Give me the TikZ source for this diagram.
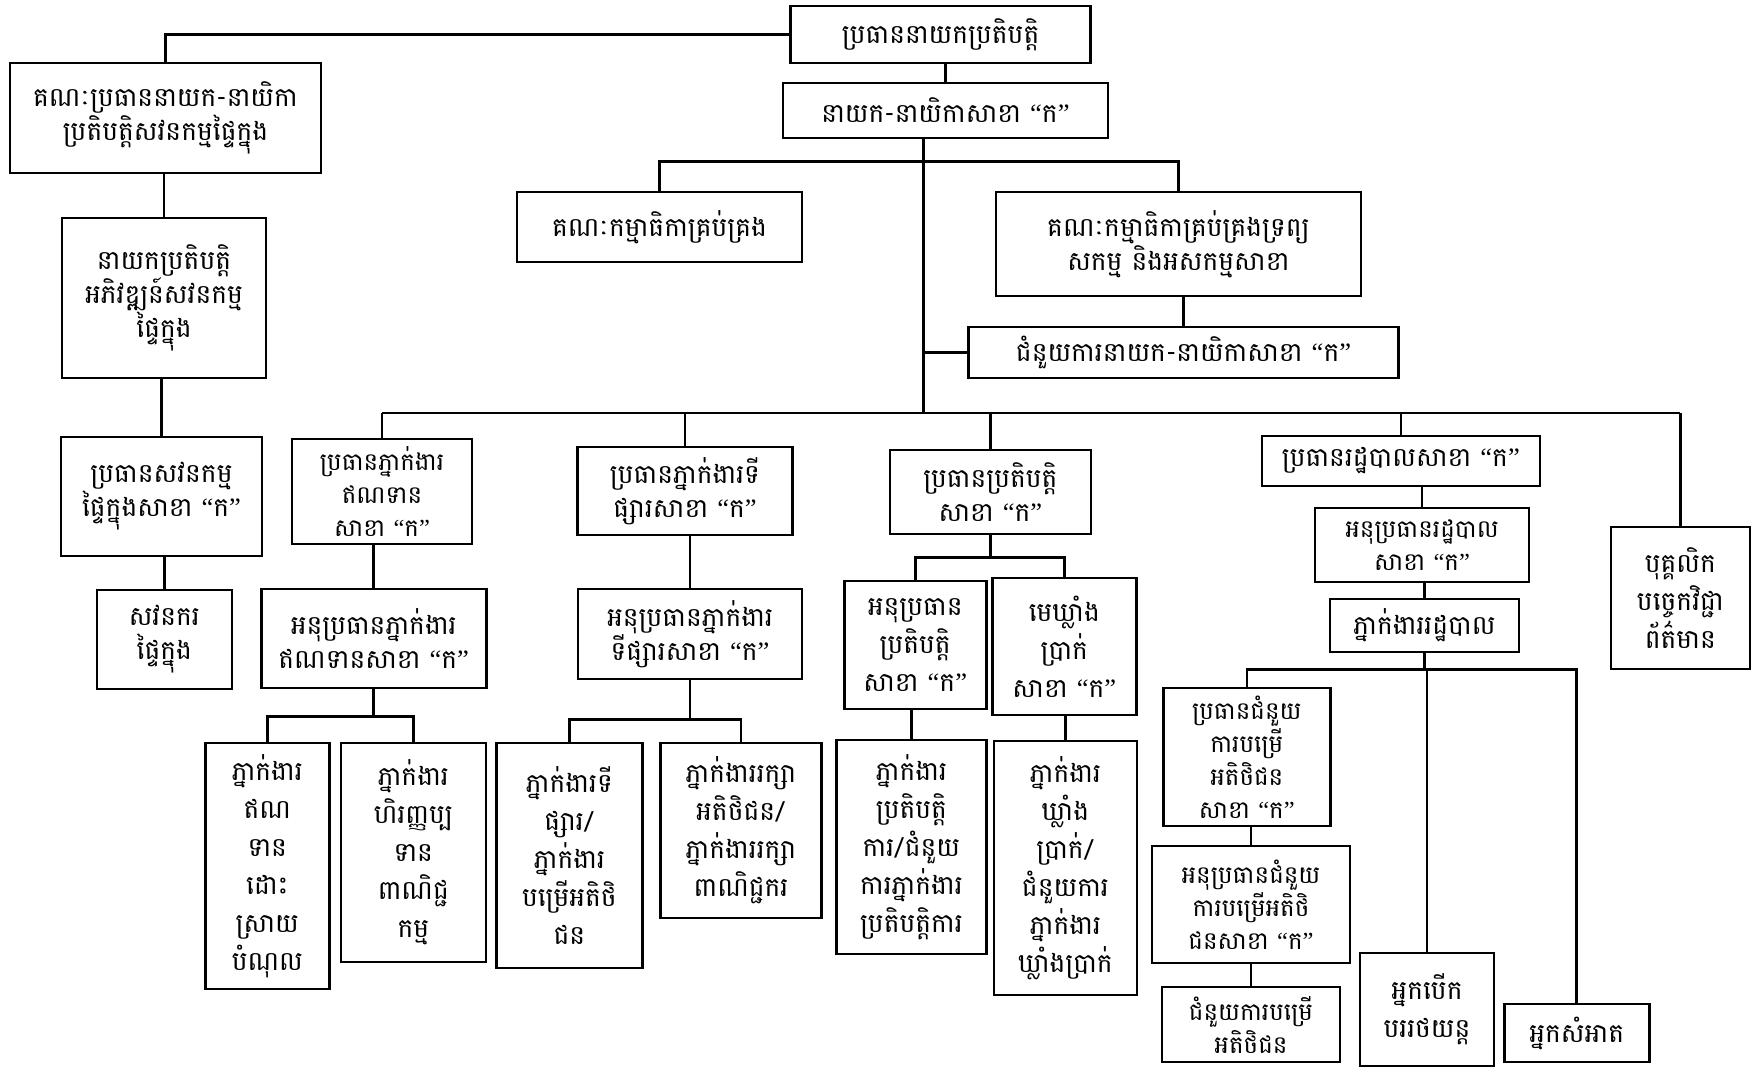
\documentclass[tikz,border=0pt]{standalone}
\usepackage{fontspec}
\newfontfamily\khmer[Script=Khmer]{Battambang}
\newfontfamily\quotefont{Liberation Serif}
\newcommand\kaq{{\quotefont “}ក{\quotefont ”}}
\usetikzlibrary{positioning}

\tikzset{
  box/.style 2 args={draw, line width=2.6pt, align=center, inner sep=2pt,
    minimum width=#1pt, minimum height=#2pt,
    font=\khmer\fontsize{26.5}{34}\selectfont},
  tight/.style={font=\khmer\fontsize{24.5}{33}\selectfont},
  loose/.style={font=\khmer\fontsize{26.5}{38}\selectfont},
  link/.style={line width=2.6pt}
}

\begin{document}
\begin{tikzpicture}[x=1pt, y=-1pt]
\useasboundingbox (0,0) rectangle (1754,1071);

% top level
\node [box={300}{57}] (ceo) at (940.6,34.5) {ប្រធាននាយកប្រតិបត្តិ};
\node [box={325}{55}] (branch) at (945.4,110.5) {នាយក-នាយិកាសាខា \kaq};
\node [box={311}{110}] (board) at (165.5,118) {គណៈប្រធាននាយក-នាយិកា\\ប្រតិបត្តិសវនកម្មផ្ទៃក្នុង};
\node [box={204}{160}] (devdir) at (164,298) {នាយកប្រតិបត្តិ\\អភិវឌ្ឍន៍សវនកម្ម\\ផ្ទៃក្នុង};
\node [box={201}{119}] (audit-head) at (161.5,496.5) {ប្រធានសវនកម្ម\\ផ្ទៃក្នុងសាខា \kaq};
\node [box={135}{99}] (auditor) at (164.3,639.5) {សវនករ\\ផ្ទៃក្នុង};

% committees
\node [box={285}{70}] (mgmt) at (659.5,227) {គណៈកម្មាធិកាគ្រប់គ្រង};
\node [box={365}{104}] (asset) at (1178.4,244) {គណៈកម្មាធិកាគ្រប់គ្រងទ្រព្យ\\សកម្ម និងអសកម្មសាខា};
\node [box={430}{51}] (assist) at (1183.5,352.5) {ជំនួយការនាយក-នាយិកាសាខា \kaq};

% credit
\node [box={180}{105}, tight] (credit-head) at (382,491.5) {ប្រធានភ្នាក់ងារ\\ឥណទាន\\សាខា \kaq};
\node [box={225}{99}] (credit-dep) at (373.7,638.5) {អនុប្រធានភ្នាក់ងារ\\ឥណទានសាខា \kaq};
\node [box={124}{246}, loose] (credit-a) at (267.3,866) {ភ្នាក់ងារ\\ឥណ\\ទាន\\ដោះ\\ស្រាយ\\បំណុល};
\node [box={145}{219}, loose] (credit-b) at (413.3,852.5) {ភ្នាក់ងារ\\ហិរញ្ញប្ប\\ទាន\\ពាណិជ្ជ\\កម្ម};

% market
\node [box={215}{88}] (market-head) at (685,491) {ប្រធានភ្នាក់ងារទី\\ផ្សារសាខា \kaq};
\node [box={224}{90}] (market-dep) at (690,634) {អនុប្រធានភ្នាក់ងារ\\ទីផ្សារសាខា \kaq};
\node [box={146}{225}, loose] (market-a) at (569.4,855.5) {ភ្នាក់ងារទី\\ផ្សារ/\\ភ្នាក់ងារ\\បម្រើអតិថិ\\ជន};
\node [box={161}{175}, loose] (market-b) at (741,830.5) {ភ្នាក់ងាររក្សា\\អតិថិជន/\\ភ្នាក់ងាររក្សា\\ពាណិជ្ជករ};

% operations
\node [box={201}{84}] (ops-head) at (990.4,492) {ប្រធានប្រតិបត្តិ\\សាខា \kaq};
\node [box={142}{128}, loose] (ops-dep) at (915.2,645) {អនុប្រធាន\\ប្រតិបត្តិ\\សាខា \kaq};
\node [box={144}{137}, loose] (vault) at (1064.3,646.5) {មេឃ្លាំង\\ប្រាក់\\សាខា \kaq};
\node [box={150}{214}, loose] (ops-a) at (911.4,847) {ភ្នាក់ងារ\\ប្រតិបត្តិ\\ការ/ជំនួយ\\ការភ្នាក់ងារ\\ប្រតិបត្តិការ};
\node [box={143}{254}, loose] (vault-a) at (1065.4,868) {ភ្នាក់ងារ\\ឃ្លាំង\\ប្រាក់/\\ជំនួយការ\\ភ្នាក់ងារ\\ឃ្លាំងប្រាក់};

% administration
\node [box={278}{50}] (admin-head) at (1400.8,461) {ប្រធានរដ្ឋបាលសាខា \kaq};
\node [box={214}{74}, tight] (admin-dep) at (1422,545) {អនុប្រធានរដ្ឋបាល\\សាខា \kaq};
\node [box={189}{53}] (admin-office) at (1424.4,625.5) {ភ្នាក់ងាររដ្ឋបាល};
\node [box={139}{142}, loose] (it) at (1680.4,598) {បុគ្គលិក\\បច្ចេកវិជ្ជា\\ព័ត៌មាន};
\node [box={167}{138}, tight] (cust-head) at (1246.8,757) {ប្រធានជំនួយ\\ការបម្រើ\\អតិថិជន\\សាខា \kaq};
\node [box={198}{117}, tight] (cust-dep) at (1251,904.5) {អនុប្រធានជំនួយ\\ការបម្រើអតិថិ\\ជនសាខា \kaq};
\node [box={178}{75}, tight] (cust-staff) at (1251,1024.5) {ជំនួយការបម្រើ\\អតិថិជន};
\node [box={134}{113}, loose] (driver) at (1427,1009.5) {អ្នកបើក\\បររថយន្ត};
\node [box={145}{58}] (cleaner) at (1576.7,1033) {អ្នកសំអាត};

% connectors
\coordinate (hub) at (923.6,413);

\draw [link] (ceo.west) -| (board.north);
\draw [link] (branch.south -| hub) -- (hub);
\draw [link] (hub |- assist.west) -- (assist.west);
\draw [link] (mgmt.north) -- ++(0,-29) -| (asset.north);
\draw [link] (hub -| credit-head.north) -- (hub -| it.north);

\foreach \n in {credit-head, market-head, ops-head, admin-head, it}
  \draw [link] (hub -| \n.north) -- (\n.north);

\foreach \a/\b in {ceo/branch, board/devdir, devdir/audit-head, audit-head/auditor,
                   asset/assist, credit-head/credit-dep, market-head/market-dep,
                   admin-head/admin-dep, admin-dep/admin-office, cust-head/cust-dep,
                   cust-dep/cust-staff, ops-dep/ops-a, vault/vault-a}
  \draw [link] (\b.north) -- (\b.north |- \a.south);

\draw [link] (credit-dep.south) -- ++(0,27) coordinate (credit-fork);
\draw [link] (credit-a.north) |- (credit-fork) -| (credit-b.north);

\draw [link] (market-dep.south) -- ++(0,39) coordinate (market-fork);
\draw [link] (market-a.north) |- (market-fork) -| (market-b.north);

\draw [link] (ops-head.south) -- ++(0,22) coordinate (ops-fork);
\draw [link] (ops-dep.north) |- (ops-fork) -| (vault.north);

\draw [link] (admin-office.south) -- ++(0,16) coordinate (admin-fork);
\draw [link] (cust-head.north) |- (admin-fork) -| (cleaner.north);
\draw [link] (admin-fork -| driver.north) -- (driver.north);

\end{tikzpicture}
\end{document}
